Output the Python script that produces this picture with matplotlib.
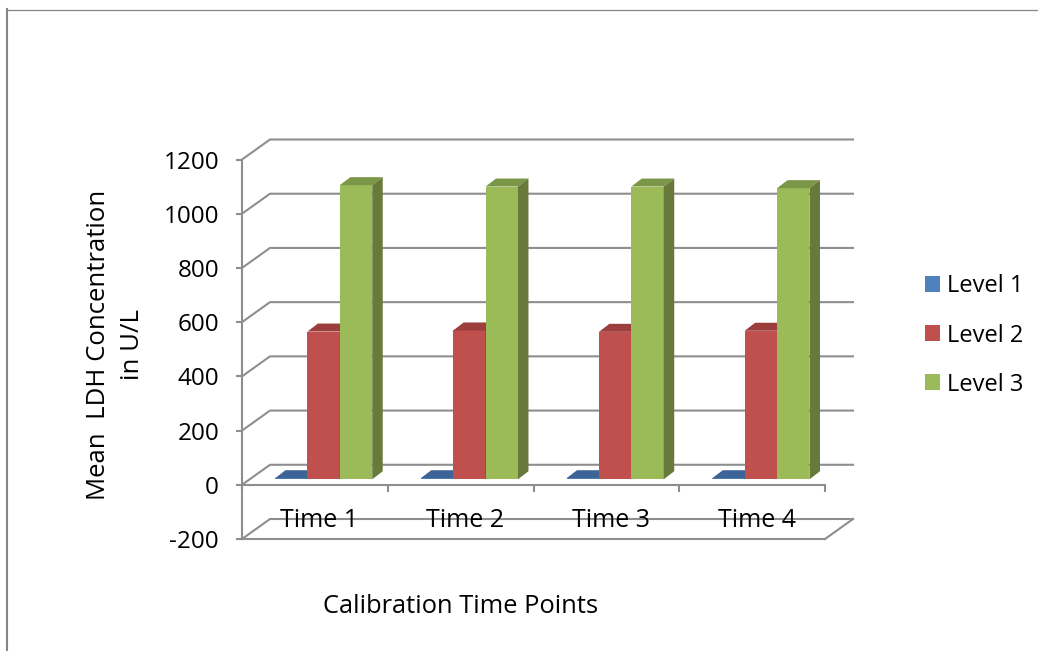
import matplotlib
matplotlib.use('Agg')
import matplotlib.pyplot as plt
from matplotlib.patches import Patch

plt.rcParams['font.family'] = ['Open Sans', 'DejaVu Sans']
plt.rcParams['axes.unicode_minus'] = False

# data
categories = ['Time 1', 'Time 2', 'Time 3', 'Time 4']
series_names = ['Level 1', 'Level 2', 'Level 3']
level1 = [4, 4, 4, 4]
level2 = [545, 549, 544, 548]
level3 = [1085, 1080, 1080, 1074]
y_ticks = [-200, 0, 200, 400, 600, 800, 1000, 1200]

front = ['#4F81BD', '#C0504D', '#9BBB59']
top = ['#3C6496', '#9C3E3B', '#7C9647']
side = ['#2F4F78', '#7F3533', '#677A39']
grid_col = '#8E8E8E'

W, H = 1038, 651
fig = plt.figure(figsize=(W / 100, H / 100), dpi=100)
# plot box = front plane of the 3d chart, in pixels
left, right, y_top, y_bot = 242, 825, 159.5, 539
ax = fig.add_axes([left / W, 1 - y_bot / H, (right - left) / W, (y_bot - y_top) / H])
ax.set_xlim(0, 4)
ax.set_ylim(-200, 1200)

px_x = 4 / (right - left)
px_y = 1400 / (y_bot - y_top)
depth_x, depth_y = 28 * px_x, 20 * px_y        # full depth of the box
bar_dx, bar_dy = 10.5 * px_x, 8 * px_y         # depth of one bar
gap_x, gap_y = 8.75 * px_x, 5.5 * px_y         # bars sit a bit behind the front
bar_w = 32.4 * px_x

# walls
for v in y_ticks:
    ax.plot([0, depth_x, 4 + depth_x], [v, v + depth_y, v + depth_y],
            color=grid_col, lw=1.5, clip_on=False, zorder=1)
ax.plot([4, 4 + depth_x], [-200, -200 + depth_y], color=grid_col, lw=1.5, clip_on=False, zorder=1)
ax.plot([0, 4], [-200, -200], color=grid_col, lw=1.5, clip_on=False, zorder=1)

# bars
for i in range(len(categories)):
    x0 = i + 0.5 - 1.5 * bar_w + gap_x
    for j, vals in enumerate([level1, level2, level3]):
        xa = x0 + j * bar_w
        xb = xa + bar_w
        v = vals[i]
        ax.bar(xa, v, bar_w, bottom=gap_y, align='edge', color=front[j], lw=0, zorder=3 + j, clip_on=False)
        ax.fill([xa, xb, xb + bar_dx, xa + bar_dx],
                [gap_y + v, gap_y + v, gap_y + v + bar_dy, gap_y + v + bar_dy],
                color=top[j], lw=0, zorder=3 + j, clip_on=False)
        ax.fill([xb, xb + bar_dx, xb + bar_dx, xb],
                [gap_y, gap_y + bar_dy, gap_y + v + bar_dy, gap_y + v],
                color=side[j], lw=0, zorder=3 + j, clip_on=False)

# axes
for s in ['top', 'right']:
    ax.spines[s].set_visible(False)
ax.spines['bottom'].set_position(('data', 0))
ax.spines['bottom'].set_color(grid_col)
ax.spines['bottom'].set_linewidth(1.5)
ax.spines['left'].set_color(grid_col)
ax.spines['left'].set_linewidth(1.5)
ax.patch.set_alpha(0)
ax.set_yticks(y_ticks)
ax.tick_params(axis='y', length=4.5, width=1.5, color=grid_col, labelsize=17.5, pad=12)
ax.set_xticks(range(5))
ax.set_xticklabels([])
ax.tick_params(axis='x', length=5, width=1.5, color=grid_col)
for i, c in enumerate(categories):
    ax.text(i + 0.5 + 4.5 * px_x, -130, c, ha='center', va='center', fontsize=18, zorder=8)

fig.text(461 / W, 1 - 606.5 / H, 'Calibration Time Points', ha='center', va='center', fontsize=18.4)
fig.text(115.5 / W, 1 - 345 / H, 'Mean  LDH Concentration\nin U/L', ha='center', va='center',
         rotation=90, fontsize=18.5, linespacing=1.43)

handles = [Patch(color=c, lw=0) for c in front]
fig.legend(handles, series_names, loc='center left', bbox_to_anchor=(925 / W, 1 - 335.5 / H), frameon=False,
           fontsize=17, handlelength=0.64, handleheight=0.64, handletextpad=0.3, labelspacing=1.06,
           borderpad=0, borderaxespad=0)

# outer chart border, only left and top are visible in the crop
fig.add_artist(plt.Line2D([7 / W, 7 / W], [0, 1 - 9 / H], color='#868686', lw=1.5))
fig.add_artist(plt.Line2D([7 / W, 1], [1 - 9.5 / H, 1 - 9.5 / H], color='#868686', lw=0.9))

fig.savefig('out.png', dpi=100)
